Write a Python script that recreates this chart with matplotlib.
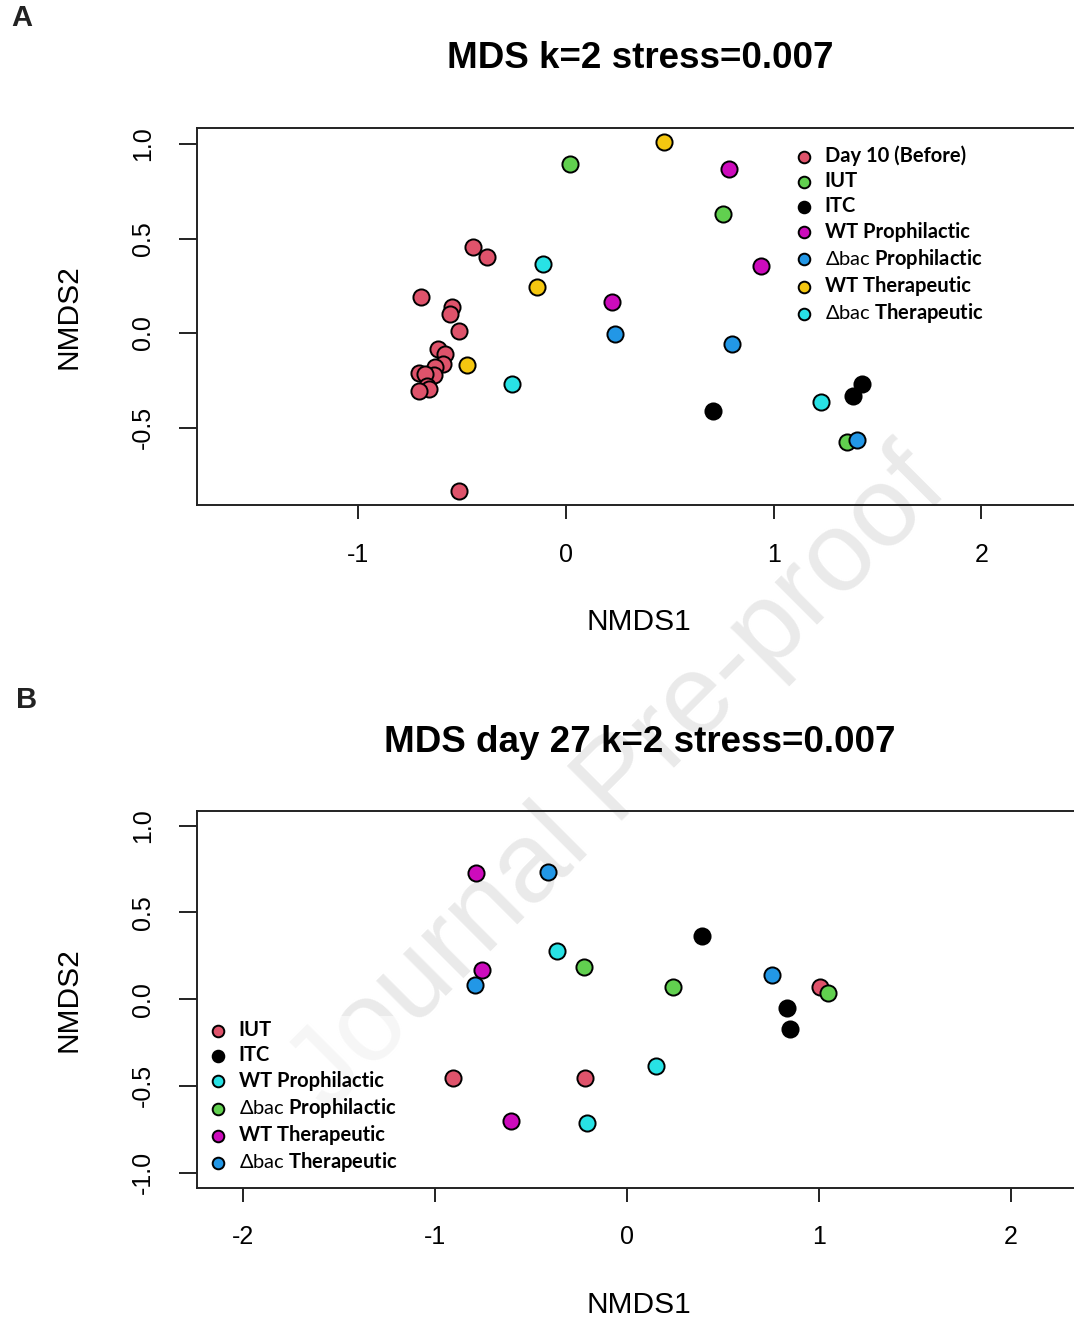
import matplotlib.pyplot as plt
from matplotlib.ticker import FormatStrFormatter

plt.rcParams['font.family'] = ['Liberation Sans', 'DejaVu Sans']
plt.rcParams['axes.unicode_minus'] = False
plt.rcParams['mathtext.fontset'] = 'custom'
plt.rcParams['mathtext.rm'] = 'Lato'

# R 4.x default palette
RED = '#DF536B'
GREEN = '#61D04F'
BLUE = '#2297E6'
CYAN = '#28E2E5'
MAGENTA = '#CD0BBC'
YELLOW = '#F5C710'
BLACK = '#000000'

# ---- panel A: day 10 ----
a_labels = ["Day 10 (Before)", "IUT", "ITC", "WT Prophilactic",
            r"$\mathrm{Δbac}$ Prophilactic", "WT Therapeutic",
            r"$\mathrm{Δbac}$ Therapeutic"]
a_colors = [RED, GREEN, BLACK, MAGENTA, BLUE, YELLOW, CYAN]

a_day10_x = [-0.446, -0.382, -0.698, -0.550, -0.558, -0.514, -0.615, -0.583, -0.594,
             -0.631, -0.634, -0.706, -0.680, -0.668, -0.658, -0.706, -0.514]
a_day10_y = [0.457, 0.400, 0.192, 0.139, 0.099, 0.011, -0.086, -0.113, -0.164,
             -0.178, -0.222, -0.213, -0.215, -0.280, -0.298, -0.305, -0.834]
a_iut_x = [0.019, 0.757, 1.351]
a_iut_y = [0.893, 0.630, -0.578]
a_itc_x = [0.709, 1.427, 1.383]
a_itc_y = [-0.413, -0.270, -0.333]
a_wtp_x = [0.785, 0.939, 0.220]
a_wtp_y = [0.866, 0.356, 0.166]
a_dbp_x = [0.236, 0.801, 1.400]
a_dbp_y = [-0.007, -0.060, -0.566]
a_wtt_x = [0.473, -0.141, -0.478]
a_wtt_y = [1.009, 0.245, -0.169]
a_dbt_x = [-0.109, -0.261, 1.228]
a_dbt_y = [0.363, -0.272, -0.367]

a_xs = [a_day10_x, a_iut_x, a_itc_x, a_wtp_x, a_dbp_x, a_wtt_x, a_dbt_x]
a_ys = [a_day10_y, a_iut_y, a_itc_y, a_wtp_y, a_dbp_y, a_wtt_y, a_dbt_y]

# ---- panel B: day 27 ----
b_labels = ["IUT", "ITC", "WT Prophilactic", r"$\mathrm{Δbac}$ Prophilactic",
            "WT Therapeutic", r"$\mathrm{Δbac}$ Therapeutic"]
b_colors = [RED, BLACK, CYAN, GREEN, MAGENTA, BLUE]

b_iut_x = [-0.905, -0.219, 1.005]
b_iut_y = [-0.457, -0.457, 0.071]
b_itc_x = [0.392, 0.835, 0.849]
b_itc_y = [0.365, -0.054, -0.175]
b_wtp_x = [-0.366, -0.210, 0.149]
b_wtp_y = [0.277, -0.717, -0.384]
b_dbp_x = [-0.222, 0.241, 1.045]
b_dbp_y = [0.186, 0.071, 0.033]
b_wtt_x = [-0.786, -0.757, -0.604]
b_wtt_y = [0.724, 0.167, -0.703]
b_dbt_x = [-0.413, -0.792, 0.753]
b_dbt_y = [0.730, 0.081, 0.138]

b_xs = [b_iut_x, b_itc_x, b_wtp_x, b_dbp_x, b_wtt_x, b_dbt_x]
b_ys = [b_iut_y, b_itc_y, b_wtp_y, b_dbp_y, b_wtt_y, b_dbt_y]

W, H = 1074, 1317
fig = plt.figure(figsize=(W / 100, H / 100), dpi=100)


def px_box(left, top, right, bottom):
    return [left / W, 1 - bottom / H, (right - left) / W, (bottom - top) / H]


# watermark sits behind both panels
fig.text(620 / W, 1 - 782 / H, "Journal Pre-proof", rotation=45, fontsize=82,
         color='#eaeaea', ha='center', va='center', zorder=-1)


def mds_panel(ax, xs, ys, colors, labels, xlim, ylim, xticks, yticks):
    for x, y, c, lab in zip(xs, ys, colors, labels):
        ax.scatter(x, y, s=135, c=c, edgecolors='black', linewidths=1.4,
                   label=lab, zorder=3)
    ax.set_xlim(*xlim)
    ax.set_ylim(*ylim)
    ax.set_xticks(xticks)
    ax.set_yticks(yticks)
    ax.xaxis.set_major_formatter(FormatStrFormatter('%d'))
    ax.yaxis.set_major_formatter(FormatStrFormatter('%.1f'))
    ax.set_facecolor('none')
    for side in ['left', 'top', 'bottom']:
        ax.spines[side].set_linewidth(1.4)
        ax.spines[side].set_color('#222222')
    ax.spines['right'].set_visible(False)
    ax.tick_params(axis='x', length=10, width=1.4, pad=17, labelsize=18, color='#222222')
    ax.tick_params(axis='y', length=13, width=1.4, pad=17, labelsize=18, color='#222222')
    for t in ax.get_yticklabels():
        t.set_rotation(90)
        t.set_va('center')
    ax.set_xlabel("NMDS1", fontsize=21.5, labelpad=30)
    ax.set_ylabel("NMDS2", fontsize=21.5, labelpad=35)


legend_style = dict(loc='upper left', frameon=True, facecolor='white',
                    edgecolor='none', fancybox=False,
                    prop={'family': 'Lato', 'weight': 'bold', 'size': 14.5},
                    markerscale=0.72, handlelength=1.0, handletextpad=0.5,
                    labelspacing=0.26, borderpad=0.2, borderaxespad=0)

ax_a = fig.add_axes(px_box(197, 128, 1080, 505))
mds_panel(ax_a, a_xs, a_ys, a_colors, a_labels,
          (-1.777, 2.475), (-0.910, 1.085), [-1, 0, 1, 2], [-0.5, 0.0, 0.5, 1.0])
ax_a.legend(bbox_to_anchor=(0.672, 0.965), framealpha=1, **legend_style)

ax_b = fig.add_axes(px_box(197, 811, 1080, 1188))
mds_panel(ax_b, b_xs, b_ys, b_colors, b_labels,
          (-2.240, 2.359), (-1.089, 1.084), [-2, -1, 0, 1, 2],
          [-1.0, -0.5, 0.0, 0.5, 1.0])
ax_b.legend(bbox_to_anchor=(0.0083, 0.456), framealpha=0.6, **legend_style)

fig.text(640 / W, 1 - 59 / H, "MDS k=2 stress=0.007", fontsize=26.5,
         fontweight='bold', ha='center', va='center')
fig.text(640 / W, 1 - 742 / H, "MDS day 27 k=2 stress=0.007", fontsize=26.5,
         fontweight='bold', ha='center', va='center')
fig.text(22 / W, 1 - 18 / H, "A", fontsize=21, fontweight='bold',
         ha='center', va='center', color='#222222')
fig.text(27 / W, 1 - 700 / H, "B", fontsize=21, fontweight='bold',
         ha='center', va='center', color='#222222')

fig.savefig("out.png", dpi=100)
